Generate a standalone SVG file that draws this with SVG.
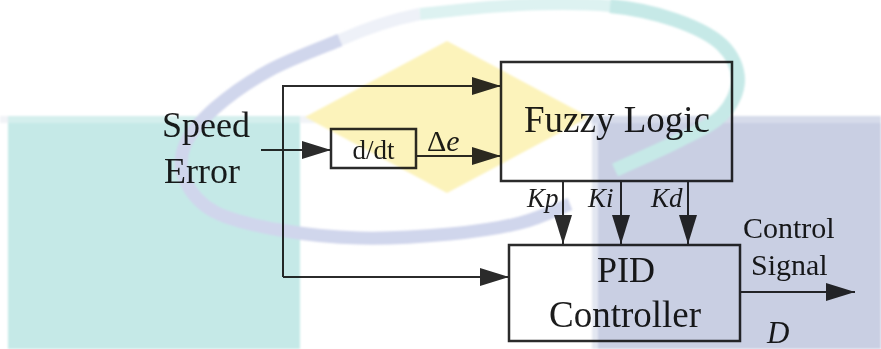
<svg xmlns="http://www.w3.org/2000/svg" width="881" height="349" viewBox="0 0 881 349">
  <style>
    .box { fill: none; stroke: #2b2b2b; stroke-width: 2.5; }
    .wire { fill: none; stroke: #2b2b2b; stroke-width: 2; }
    .arr { marker-end: url(#ah); }
    .diagram { mix-blend-mode: multiply; }
  </style>
  <defs>
    <marker id="ah" markerUnits="userSpaceOnUse" markerWidth="29" markerHeight="18" refX="29" refY="9" orient="auto" overflow="visible">
      <path d="M0,0 L29,9 L0,18 Z" fill="#2b2b2b"/>
    </marker>
    <filter id="soft" x="-5%" y="-5%" width="110%" height="110%">
      <feGaussianBlur stdDeviation="1.2"/>
    </filter>
  </defs>

  <rect width="881" height="349" fill="#ffffff"/>

  <g id="watermark" filter="url(#soft)">
    <rect x="0" y="116" width="881" height="7" fill="#f1f3f7"/>
    <rect x="8" y="116" width="292" height="233" fill="#c5e9e7"/>
    <rect x="8" y="116" width="292" height="7" fill="#d4efed"/>
    <rect x="592" y="116" width="289" height="233" fill="#c9cfe3"/>
    <rect x="592" y="116" width="6" height="233" fill="#e3e7f1"/>
    <rect x="592" y="116" width="289" height="7" fill="#d6dbea"/>
    <path d="M447,41 L589,117 L447,193 L305,117 Z" fill="#fcf3bb"/>
    <path d="M340,40 Q380,22 420,14" fill="none" stroke="#eef1f8" stroke-width="12"/>
    <path d="M340,40 C328.3,45 290.8,58.7 270,70 C249.2,81.3 229.2,95.5 215,108 C200.8,120.5 190,133 185,145 C180,157 180,168.8 185,180 C190,191.2 199.2,203.7 215,212 C230.8,220.3 255.8,225.7 280,230 C304.2,234.3 331.7,237.3 360,238 C388.3,238.7 423.3,236.5 450,234 C476.7,231.5 500,228 520,223 C540,218 561.7,207.2 570,204" fill="none" stroke="#d0d6ec" stroke-width="13"/>
    <path d="M420,14 C436.7,12.5 488.3,6.3 520,5 C551.7,3.7 584.2,3.5 610,6" fill="none" stroke="#ddf2f1" stroke-width="12"/>
    <path d="M610,6 C635.8,8.5 656.3,13.5 675,20 C693.7,26.5 711.5,35 722,45 C732.5,55 738,68.3 738,80 C738,91.7 731.7,105 722,115 C712.3,125 697.8,130.8 680,140 C662.2,149.2 625.8,165 615,170" fill="none" stroke="#c6e9e7" stroke-width="14"/>
  </g>

  <g class="diagram" font-family="Liberation Serif, Tinos, Times New Roman, DejaVu Serif, serif" fill="#1c1c1c">
    <g id="connectors">
      <polyline class="wire arr" points="283,277 283,86 501,86"/>
      <line class="wire arr" x1="283" y1="277" x2="509" y2="277"/>
      <line class="wire arr" x1="261" y1="150" x2="331" y2="150"/>
      <line class="wire arr" x1="416" y1="156" x2="501" y2="156"/>
      <line class="wire arr" x1="563" y1="181" x2="563" y2="244"/>
      <line class="wire arr" x1="621" y1="181" x2="621" y2="244"/>
      <line class="wire arr" x1="688" y1="181" x2="688" y2="244"/>
      <line class="wire arr" x1="740" y1="292" x2="855" y2="292"/>
    </g>

    <g id="speed-error">
      <text x="206" y="137" font-size="36" text-anchor="middle">Speed</text>
      <text x="202" y="183" font-size="36" text-anchor="middle">Error</text>
    </g>

    <g id="ddt">
      <rect class="box" x="331" y="129" width="85" height="39"/>
      <text x="373.5" y="159" font-size="27" text-anchor="middle">d/dt</text>
    </g>

    <g id="fuzzy">
      <rect class="box" x="501" y="62" width="231" height="119"/>
      <text x="617" y="132" font-size="37" text-anchor="middle">Fuzzy Logic</text>
    </g>

    <g id="pid">
      <rect class="box" x="509" y="245" width="231" height="96"/>
      <text x="626" y="282" font-size="36" text-anchor="middle">PID</text>
      <text x="625" y="327" font-size="37" text-anchor="middle">Controller</text>
    </g>

    <g id="labels">
      <text x="427" y="151" font-size="30">Δ<tspan font-style="italic">e</tspan></text>
      <text font-style="italic" x="527" y="207" font-size="27">Kp</text>
      <text font-style="italic" x="588" y="207" font-size="27">Ki</text>
      <text font-style="italic" x="651" y="207" font-size="27">Kd</text>
      <text x="743" y="238" font-size="30">Control</text>
      <text x="751" y="275" font-size="30">Signal</text>
      <text font-style="italic" x="767" y="343" font-size="31">D</text>
    </g>
  </g>
</svg>
